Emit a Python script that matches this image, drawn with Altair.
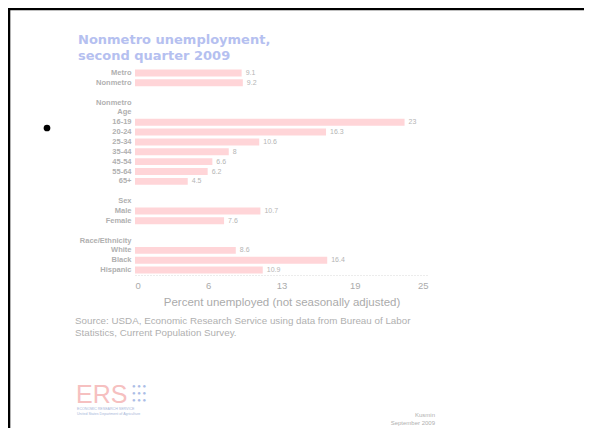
import altair as alt
import pandas as pd

# ---- data -------------------------------------------------------------
row_labels = ["Metro", "Nonmetro", " ", "Nonmetro ", "Age", "16-19", "20-24",
              "25-34", "35-44", "45-54", "55-64", "65+", "  ", "Sex", "Male",
              "Female", "   ", "Race/Ethnicity", "White", "Black", "Hispanic"]
row_values = [9.1, 9.2, None, None, None, 23.0, 16.3, 10.6, 8.0, 6.6, 6.2, 4.5,
              None, None, 10.7, 7.6, None, None, 8.6, 16.4, 10.9]
value_text = ["9.1", "9.2", "", "", "", "23", "16.3", "10.6", "8", "6.6", "6.2",
              "4.5", "", "", "10.7", "7.6", "", "", "8.6", "16.4", "10.9"]
x_ticks = [0, 6.25, 12.5, 18.75, 25]

title_lines = ["Nonmetro unemployment,", "second quarter 2009"]
source_lines = ["Source: USDA, Economic Research Service using data from Bureau of Labor",
                "Statistics, Current Population Survey."]
footer_lines = ["Kusmin", "September 2009"]

df = pd.DataFrame({"label": row_labels, "value": row_values, "vtext": value_text})
df = df[df["value"].notna()]

FONT = "Liberation Sans"
GRAY = "#ababab"

y_enc = alt.Y("label:N", sort=row_labels,
              scale=alt.Scale(domain=row_labels, paddingInner=0.3, paddingOuter=0.15),
              axis=alt.Axis(title=None, domain=False, ticks=False, labelPadding=4,
                            labelFontSize=7.5, labelColor="#b0b0b0", labelFont=FONT,
                            labelFontWeight="bold"))
x_enc = alt.X("value:Q", scale=alt.Scale(domain=[0, 25], nice=False),
              axis=alt.Axis(title="Percent unemployed (not seasonally adjusted)",
                            values=x_ticks, labelExpr="round(datum.value)",
                            grid=False, ticks=False, labelPadding=5,
                            labelFontSize=9.5, labelColor=GRAY, labelFont=FONT,
                            domainColor="#d8d8d8", domainDash=[1, 2],
                            titleFontSize=11.5, titleFontWeight="normal",
                            titleColor=GRAY, titleFont=FONT, titlePadding=7))

base = alt.Chart(df)
bars = base.mark_bar(color="#ffd5d8").encode(x=x_enc, y=y_enc)
vals = base.mark_text(align="left", baseline="middle", dx=4, fontSize=7,
                      color="#b5b5b5", font=FONT).encode(
    x=alt.X("value:Q"), y=alt.Y("label:N", sort=row_labels), text="vtext:N")


def one(text):
    return alt.Chart(pd.DataFrame({"t": [text]}))


def txt(text, x, y, size, color, align="left", weight="normal", font=FONT):
    return one(text).mark_text(align=align, baseline="middle", fontSize=size,
                               color=color, fontWeight=weight, font=font).encode(
        x=alt.value(x), y=alt.value(y), text="t:N")


layers = [bars, vals]
# title
layers.append(txt(title_lines[0], -57, -28, 13, "#b5c0f0", weight="bold", font="DejaVu Sans"))
layers.append(txt(title_lines[1], -57, -12, 13, "#b5c0f0", weight="bold", font="DejaVu Sans"))
# source
layers.append(txt(source_lines[0], -60, 253, 9.8, "#b0b0b0"))
layers.append(txt(source_lines[1], -60, 265, 9.8, "#b0b0b0"))
# footer
layers.append(txt(footer_lines[0], 300, 347, 6, "#b0b0b0", align="right"))
layers.append(txt(footer_lines[1], 300, 355, 6, "#b0b0b0", align="right"))
# ERS logo
layers.append(txt("ERS", -59, 327, 25, "#f6c0c0"))
for yy in (318, 325, 332):
    layers.append(txt("\u25CF \u25CF \u25CF", -3, yy, 6, "#abbde6"))
layers.append(txt("ECONOMIC RESEARCH SERVICE", -58, 341, 3.6, "#a7b6da"))
layers.append(txt("United States Department of Agriculture", -58, 346, 3.6, "#a7b6da"))
# bullet
layers.append(one("b").mark_circle(color="black", opacity=1, size=45).encode(
    x=alt.value(-88), y=alt.value(60)))
# slide frame (top and left edges)
layers.append(one("f").mark_rule(color="black", strokeWidth=2.6).encode(
    x=alt.value(-127), x2=alt.value(449), y=alt.value(-59)))
layers.append(one("f").mark_rule(color="black", strokeWidth=2.6).encode(
    x=alt.value(-126), y=alt.value(-60), y2=alt.value(360)))

chart = alt.layer(*layers).properties(
    width=293, height=207,
    autosize=alt.AutoSizeParams(type="none"),
    padding={"left": 127, "top": 60, "right": 156, "bottom": 153},
).configure_view(stroke=None)

chart.save("out.html", embed_options={"renderer": "svg", "actions": False})
